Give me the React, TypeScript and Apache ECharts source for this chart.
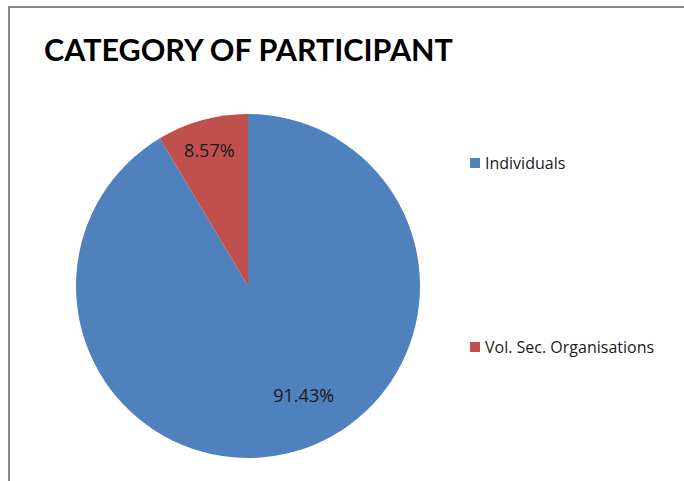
import React, { useEffect, useRef } from "react";
import * as echarts from "echarts";

const titleText = "CATEGORY OF PARTICIPANT";
const categories = ["Individuals", "Vol. Sec. Organisations"];
const values = [91.43, 8.57];
const colors = ["#4F81BD", "#C0504D"];

export default function App() {
  const ref = useRef<HTMLDivElement>(null);
  useEffect(() => {
    if (!ref.current) return;
    const chart = echarts.init(ref.current, null, { renderer: "svg" });
    const labelShift: Record<string, [number, number]> = {
      "Individuals": [32, 23],
      "Vol. Sec. Organisations": [-15, -50],
    };
    chart.setOption({
      animation: false,
      backgroundColor: "#ffffff",
      title: {
        text: titleText,
        left: 39,
        top: 28,
        textStyle: {
          fontFamily: "Lato",
          fontWeight: "bold",
          fontSize: 30.5,
          color: "#000000",
        },
      },
      legend: {
        orient: "vertical",
        left: 465,
        top: 150,
        itemWidth: 10,
        itemHeight: 10,
        itemGap: 168,
        icon: "rect",
        data: categories,
        textStyle: {
          fontFamily: "Open Sans",
          fontSize: 16,
          color: "#1a1a1a",
        },
      },
      graphic: [
        {
          type: "rect",
          shape: { x: 9, y: 7, width: 700, height: 500 },
          style: { fill: "none", stroke: "#888888", lineWidth: 2 },
          silent: true,
        },
      ],
      series: [
        {
          type: "pie",
          center: [248, 286],
          radius: 172,
          startAngle: 90,
          clockwise: true,
          color: colors,
          data: categories.map((c, i) => ({ name: c, value: values[i] })),
          label: {
            show: true,
            position: "inside",
            formatter: (p: any) => p.value.toFixed(2) + "%",
            fontFamily: "Open Sans",
            fontSize: 18,
            color: "#1a1a1a",
          },
          labelLine: { show: false },
          labelLayout: (p: any) => {
            const s = labelShift[categories[p.dataIndex]] || [0, 0];
            return { dx: s[0], dy: s[1] };
          },
          itemStyle: { borderWidth: 0 },
          emphasis: { disabled: true },
        },
      ],
    });
    return () => chart.dispose();
  }, []);
  return (
    <div
      ref={ref}
      style={{ position: "absolute", left: 0, top: 0, width: 684, height: 481 }}
    />
  );
}
